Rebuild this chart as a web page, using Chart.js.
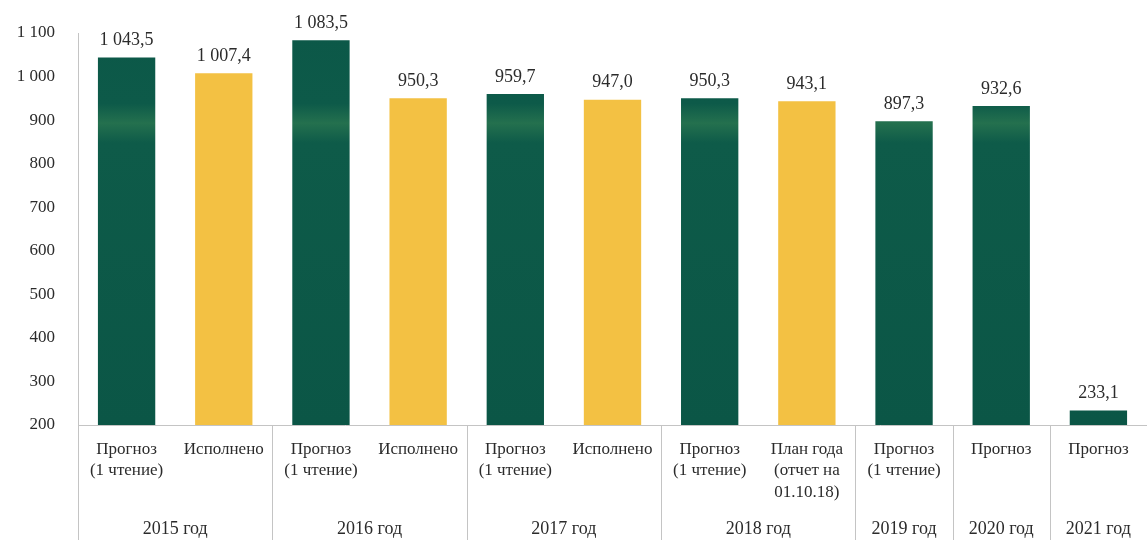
<!DOCTYPE html>
<html lang="ru">
<head>
<meta charset="UTF-8">
<title>Прогноз и исполнение</title>
<script src="https://cdn.jsdelivr.net/npm/chart.js"></script>
<style>
  html, body { margin: 0; padding: 0; background: #fff; }
  #wrap { width: 1147px; height: 540px; }
</style>
</head>
<body>
<div id="wrap"><canvas id="budgetChart"></canvas></div>
<script>
// categories (bar labels, multi-line)
const categories = [
    ['Прогноз', '(1 чтение)'],
    ['Исполнено'],
    ['Прогноз', '(1 чтение)'],
    ['Исполнено'],
    ['Прогноз', '(1 чтение)'],
    ['Исполнено'],
    ['Прогноз', '(1 чтение)'],
    ['План года', '(отчет на', '01.10.18)'],
    ['Прогноз', '(1 чтение)'],
    ['Прогноз'],
    ['Прогноз']
];
const values = [1043.5, 1007.4, 1083.5, 950.3, 959.7, 947.0, 950.3, 943.1, 897.3, 932.6, 233.1];
// 'g' = прогноз (green), 'y' = исполнено / план (yellow)
const kinds = ['g', 'y', 'g', 'y', 'g', 'y', 'g', 'y', 'g', 'g', 'g'];
const years = ['2015 год', '2016 год', '2017 год', '2018 год', '2019 год', '2020 год', '2021 год'];
const yearSizes = [2, 2, 2, 2, 1, 1, 1];
const yTicks = [200, 300, 400, 500, 600, 700, 800, 900, 1000, 1100];

const SERIF = '"Liberation Serif", "DejaVu Serif", serif';
const TEXT = '#2b2b2b';
const LINE = '#c4c4c4';

function fmt(v, dec) {
    const s = dec ? v.toFixed(1) : String(Math.round(v));
    const parts = s.split('.');
    const int = parts[0].replace(/\B(?=(\d{3})+(?!\d))/g, ' ');
    return parts.length > 1 ? int + ',' + parts[1] : int;
}

function barColor(ctx) {
    const chart = ctx.chart;
    const area = chart.chartArea;
    if (kinds[ctx.dataIndex] === 'y') return '#f3c143';
    if (!area) return '#0c5848';
    const g = chart.ctx.createLinearGradient(0, area.top, 0, area.bottom);
    g.addColorStop(0, '#0c5848');
    g.addColorStop(0.18, '#0d5a49');
    g.addColorStop(0.23, '#24704e');
    g.addColorStop(0.28, '#0e5b49');
    g.addColorStop(1, '#0b5646');
    return g;
}

// value labels above bars
const valueLabels = {
    id: 'valueLabels',
    afterDatasetsDraw(chart) {
        const c = chart.ctx;
        const meta = chart.getDatasetMeta(0);
        c.save();
        c.font = '18px ' + SERIF;
        c.fillStyle = TEXT;
        c.textAlign = 'center';
        c.textBaseline = 'bottom';
        meta.data.forEach((bar, i) => {
            c.fillText(fmt(values[i], true), bar.x, bar.y - 8);
        });
        c.restore();
    }
};

// year group labels and separators under the x axis
const yearGroups = {
    id: 'yearGroups',
    afterDraw(chart) {
        const c = chart.ctx;
        const x = chart.scales.x;
        const bottom = chart.chartArea.bottom;
        const half = (x.getPixelForValue(1) - x.getPixelForValue(0)) / 2;
        c.save();
        c.strokeStyle = LINE;
        c.lineWidth = 1;
        c.font = '18px ' + SERIF;
        c.fillStyle = TEXT;
        c.textAlign = 'center';
        c.textBaseline = 'middle';
        let start = 0;
        yearSizes.forEach((n, k) => {
            const left = x.getPixelForValue(start) - half;
            const right = x.getPixelForValue(start + n - 1) + half;
            c.beginPath();
            c.moveTo(Math.round(left) + 0.5, bottom);
            c.lineTo(Math.round(left) + 0.5, chart.height);
            c.stroke();
            c.fillText(years[k], (left + right) / 2, bottom + 104);
            start += n;
        });
        c.restore();
    }
};

new Chart(document.getElementById('budgetChart'), {
    type: 'bar',
    data: {
        labels: categories,
        datasets: [{
            data: values,
            backgroundColor: barColor,
            categoryPercentage: 1,
            barPercentage: 0.59
        }]
    },
    options: {
        responsive: true,
        maintainAspectRatio: false,
        animation: false,
        layout: { padding: { top: 33, right: 0, left: 0, bottom: 0 } },
        plugins: {
            legend: { display: false },
            tooltip: { enabled: false }
        },
        scales: {
            x: {
                grid: { display: false },
                border: { display: true, color: LINE },
                ticks: {
                    color: TEXT,
                    font: { family: SERIF, size: 17, lineHeight: 1.25 },
                    padding: 6,
                    maxRotation: 0,
                    autoSkip: false
                },
                afterFit(scale) { scale.height = 115; }
            },
            y: {
                min: 200,
                max: 1100,
                afterBuildTicks(scale) { scale.ticks = yTicks.map(v => ({ value: v })); },
                grid: { display: false },
                border: { display: true, color: LINE },
                ticks: {
                    color: TEXT,
                    font: { family: SERIF, size: 17 },
                    padding: 15,
                    callback: v => fmt(v, false)
                },
                afterFit(scale) { scale.width = 78; }
            }
        }
    },
    plugins: [valueLabels, yearGroups]
});
</script>
</body>
</html>
